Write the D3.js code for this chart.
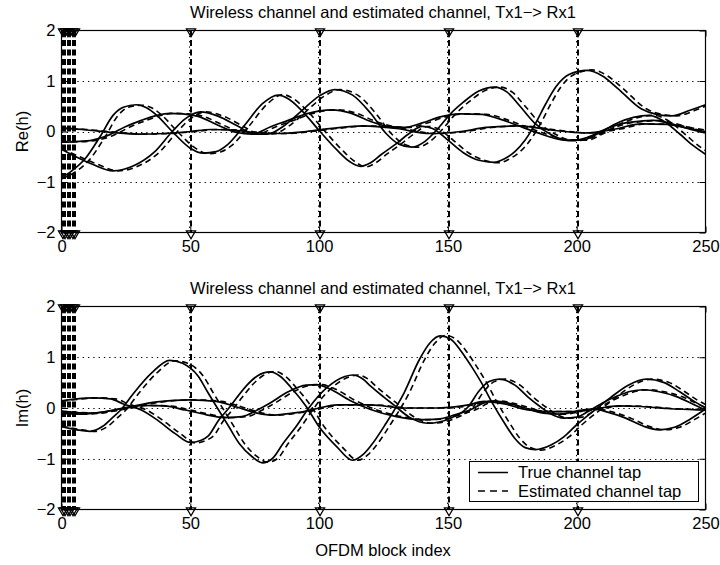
<!DOCTYPE html>
<html>
<head>
<meta charset="utf-8">
<script src="https://cdn.jsdelivr.net/npm/d3@7"></script>
<style>
  body { margin: 0; background: #fff; }
  text { font-family: "Liberation Sans", Arial, Helvetica, sans-serif; fill: #000; }
</style>
</head>
<body>
<div id="chart"></div>
<script>
// ---- data: [OFDM block, value] ----
var xTicks = [0, 50, 100, 150, 200, 250];
var yTicks = [-2, -1, 0, 1, 2];
var pilotBlocks = [0, 1, 2, 3, 4, 5, 50, 100, 150, 200];
var titleText = "Wireless channel and estimated channel, Tx1\u2212> Rx1";

// real part, true taps
var reTrue1 = [[0,-0.92],[4,-0.78],[9,-0.55],[15,-0.1],[20,0.32],[24,0.48],[29,0.53],[33,0.47],[37,0.32],[43,0.0],[50,-0.33],[55,-0.43],[60,-0.4],[64,-0.28],[71,0.12],[78,0.55],[84,0.72],[88,0.65],[93,0.43],[100,0.02],[107,-0.37],[112,-0.6],[116,-0.69],[120,-0.62],[124,-0.46],[130,-0.24],[135,-0.04],[140,0.1],[144,0.06],[150,-0.17],[156,-0.42],[162,-0.57],[168,-0.61],[172,-0.54],[176,-0.4],[180,-0.17],[184,0.16],[188,0.55],[192,0.89],[197,1.13],[204,1.21],[210,1.1],[216,0.85],[225,0.45],[231,0.34],[237,0.31],[244,0.42],[250,0.53]];
var reTrue2 = [[0,-0.35],[6,-0.51],[12,-0.65],[20,-0.78],[28,-0.68],[36,-0.41],[43,0.0],[48,0.25],[54,0.39],[61,0.3],[68,0.12],[75,-0.05],[80,-0.05],[86,0.1],[93,0.4],[100,0.7],[106,0.83],[113,0.72],[120,0.36],[126,-0.04],[131,-0.25],[136,-0.31],[141,-0.2],[146,0.05],[151,0.35],[156,0.58],[162,0.8],[168,0.88],[173,0.78],[178,0.5],[184,0.15],[190,-0.06],[196,-0.17],[202,-0.17],[208,-0.05],[215,0.15],[222,0.28],[228,0.32],[234,0.2],[240,-0.05],[245,-0.27],[250,-0.45]];
var reTrue3 = [[0,-0.21],[6,-0.2],[12,-0.17],[18,-0.08],[25,0.1],[31,0.22],[37,0.32],[42,0.36],[47,0.35],[53,0.3],[61,0.12],[68,-0.02],[74,-0.05],[81,0.09],[88,0.22],[95,0.35],[105,0.43],[112,0.37],[120,0.2],[127,0.1],[133,0.08],[140,0.17],[147,0.29],[155,0.35],[163,0.34],[170,0.25],[177,0.12],[185,-0.03],[192,-0.14],[198,-0.18],[204,-0.12],[210,0.02],[217,0.15],[224,0.2],[230,0.22],[236,0.16],[243,0.06],[250,-0.03]];
var reTrue4 = [[0,0.07],[10,0.03],[20,-0.02],[30,-0.05],[40,-0.04],[50,0.0],[58,0.04],[66,0.03],[75,-0.02],[85,-0.04],[95,0.0],[105,0.06],[117,0.11],[130,0.06],[143,-0.04],[155,0.0],[165,0.08],[177,0.11],[190,0.03],[203,-0.03],[215,0.05],[225,0.15],[235,0.14],[243,0.07],[250,0.0]];

// real part, estimated taps
var reEst1 = [[0,-0.94],[6,-0.78],[11,-0.55],[17,-0.1],[22,0.32],[26,0.48],[31,0.52],[35,0.47],[39,0.32],[45,0.0],[52,-0.33],[57,-0.44],[62,-0.4],[66,-0.28],[73,0.12],[80,0.55],[86,0.73],[90,0.65],[95,0.43],[102,0.02],[109,-0.37],[114,-0.6],[118,-0.7],[122,-0.62],[126,-0.46],[132,-0.24],[137,-0.04],[142,0.1],[146,0.06],[152,-0.17],[158,-0.42],[164,-0.57],[170,-0.62],[174,-0.54],[178,-0.4],[182,-0.17],[186,0.16],[190,0.55],[194,0.89],[199,1.13],[206,1.22],[212,1.1],[218,0.85],[227,0.45],[233,0.34],[239,0.31],[246,0.42],[250,0.5]];
var reEst2 = [[0,-0.34],[8,-0.52],[14,-0.65],[22,-0.78],[30,-0.68],[38,-0.41],[45,0.0],[50,0.25],[56,0.39],[63,0.3],[70,0.12],[77,-0.05],[82,-0.05],[88,0.1],[95,0.4],[102,0.7],[108,0.83],[115,0.72],[122,0.36],[128,-0.04],[133,-0.25],[138,-0.31],[143,-0.2],[148,0.05],[153,0.35],[158,0.58],[164,0.8],[170,0.88],[175,0.78],[180,0.5],[186,0.15],[192,-0.06],[198,-0.17],[204,-0.17],[210,-0.05],[217,0.15],[224,0.28],[230,0.32],[236,0.2],[242,-0.05],[247,-0.27],[250,-0.38]];
var reEst3 = [[0,-0.2],[8,-0.2],[14,-0.17],[20,-0.08],[27,0.1],[33,0.22],[39,0.32],[44,0.36],[49,0.35],[55,0.3],[63,0.12],[70,-0.02],[76,-0.05],[83,0.09],[90,0.22],[97,0.35],[107,0.43],[114,0.37],[122,0.2],[129,0.1],[135,0.08],[142,0.17],[149,0.29],[157,0.35],[165,0.34],[172,0.25],[179,0.12],[187,-0.03],[194,-0.14],[200,-0.18],[206,-0.12],[212,0.02],[219,0.15],[226,0.2],[232,0.22],[238,0.16],[245,0.06],[250,0.0]];
var reEst4 = [[0,0.06],[12,0.03],[22,-0.02],[32,-0.05],[42,-0.04],[52,0.0],[60,0.04],[68,0.03],[77,-0.02],[87,-0.04],[97,0.0],[107,0.06],[119,0.11],[132,0.06],[145,-0.04],[157,0.0],[167,0.08],[179,0.11],[192,0.03],[205,-0.03],[217,0.05],[227,0.15],[237,0.14],[245,0.07],[250,0.03]];

// imaginary part, true taps
var imTrue1 = [[0,-0.37],[6,-0.43],[11,-0.46],[16,-0.36],[20,-0.18],[23,-0.04],[28,0.29],[35,0.69],[42,0.94],[47,0.88],[53,0.63],[57,0.29],[61,-0.04],[65,-0.37],[69,-0.7],[74,-0.96],[78,-1.08],[82,-0.99],[86,-0.7],[91,-0.37],[96,0.0],[103,0.4],[110,0.62],[113,0.65],[117,0.57],[120,0.43],[125,0.22],[129,0.06],[135,-0.18],[142,-0.3],[147,-0.27],[151,-0.2],[158,0.03],[162,0.33],[166,0.52],[170,0.57],[176,0.45],[181,0.22],[186,0.02],[190,-0.12],[195,-0.2],[200,-0.18],[205,-0.05],[210,0.1],[216,0.24],[221,0.33],[226,0.36],[232,0.32],[239,0.22],[245,0.08],[250,-0.04]];
var imTrue2 = [[0,0.14],[6,0.18],[12,0.2],[19,0.18],[24,0.08],[31,-0.04],[37,-0.23],[44,-0.5],[50,-0.68],[54,-0.64],[57,-0.55],[61,-0.24],[65,0.0],[68,0.2],[72,0.45],[76,0.63],[81,0.71],[85,0.62],[89,0.41],[95,0.03],[100,-0.37],[107,-0.77],[113,-1.03],[117,-0.92],[120,-0.75],[126,-0.3],[133,0.3],[139,0.96],[143,1.28],[147,1.42],[151,1.36],[155,1.13],[159,0.83],[163,0.5],[167,0.12],[172,-0.3],[176,-0.6],[180,-0.78],[184,-0.82],[190,-0.73],[195,-0.57],[200,-0.33],[207,-0.04],[213,0.2],[220,0.45],[227,0.57],[234,0.5],[240,0.32],[245,0.15],[250,0.0]];
var imTrue3 = [[0,-0.07],[12,-0.1],[24,0.0],[37,0.12],[50,0.16],[60,0.13],[68,0.02],[76,-0.1],[82,-0.14],[88,-0.11],[94,-0.07],[100,0.0],[107,0.06],[120,0.06],[133,0.0],[146,0.0],[158,0.06],[164,0.13],[172,0.08],[181,-0.04],[190,-0.07],[199,-0.07],[208,-0.01],[216,0.04],[225,0.03],[235,-0.01],[250,-0.04]];
var imTrue4 = [[0,-0.1],[8,-0.12],[16,-0.08],[24,-0.01],[32,0.05],[40,0.04],[48,-0.04],[56,-0.13],[63,-0.19],[70,-0.17],[76,-0.04],[81,0.1],[88,0.32],[95,0.45],[99,0.46],[104,0.38],[112,0.15],[120,-0.03],[130,-0.17],[139,-0.23],[146,-0.22],[153,-0.13],[159,-0.03],[164,0.1],[168,0.14],[173,0.1],[180,0.0],[187,-0.1],[194,-0.12],[200,-0.06],[206,-0.02],[212,-0.08],[219,-0.2],[226,-0.36],[232,-0.43],[238,-0.38],[244,-0.22],[250,-0.02]];

// imaginary part, estimated taps
var imEst1 = [[0,-0.36],[8,-0.43],[13,-0.46],[18,-0.36],[22,-0.18],[25,-0.04],[30,0.29],[37,0.69],[44,0.93],[49,0.88],[55,0.63],[59,0.29],[63,-0.04],[67,-0.37],[71,-0.7],[76,-0.96],[80,-1.07],[84,-0.99],[88,-0.7],[93,-0.37],[98,0.0],[105,0.4],[112,0.62],[115,0.65],[119,0.57],[122,0.43],[127,0.22],[131,0.06],[137,-0.18],[144,-0.3],[149,-0.27],[153,-0.2],[160,0.03],[164,0.33],[168,0.52],[172,0.57],[178,0.45],[183,0.22],[188,0.02],[192,-0.12],[197,-0.2],[202,-0.18],[207,-0.05],[212,0.1],[218,0.24],[223,0.33],[228,0.36],[234,0.32],[241,0.22],[247,0.08],[250,0.01]];
var imEst2 = [[0,0.13],[8,0.18],[14,0.2],[21,0.18],[26,0.08],[33,-0.04],[39,-0.23],[46,-0.5],[52,-0.69],[56,-0.64],[59,-0.55],[63,-0.24],[67,0.0],[70,0.2],[74,0.45],[78,0.63],[83,0.72],[87,0.62],[91,0.41],[97,0.03],[102,-0.37],[109,-0.77],[115,-1.03],[119,-0.92],[122,-0.75],[128,-0.3],[135,0.3],[141,0.96],[145,1.28],[149,1.43],[153,1.36],[157,1.13],[161,0.83],[165,0.5],[169,0.12],[174,-0.3],[178,-0.6],[182,-0.78],[186,-0.83],[192,-0.73],[197,-0.57],[202,-0.33],[209,-0.04],[215,0.2],[222,0.45],[229,0.57],[236,0.5],[242,0.32],[247,0.15],[250,0.07]];
var imEst3 = [[0,-0.06],[14,-0.1],[26,0.0],[39,0.12],[52,0.16],[62,0.13],[70,0.02],[78,-0.1],[84,-0.14],[90,-0.11],[96,-0.07],[102,0.0],[109,0.06],[122,0.06],[135,0.0],[148,0.0],[160,0.06],[166,0.13],[174,0.08],[183,-0.04],[192,-0.07],[201,-0.07],[210,-0.01],[218,0.04],[227,0.03],[237,-0.01],[250,-0.03]];
var imEst4 = [[0,-0.1],[10,-0.12],[18,-0.08],[26,-0.01],[34,0.05],[42,0.04],[50,-0.04],[58,-0.13],[65,-0.19],[72,-0.17],[78,-0.04],[83,0.1],[90,0.32],[97,0.45],[101,0.46],[106,0.38],[114,0.15],[122,-0.03],[132,-0.17],[141,-0.23],[148,-0.22],[155,-0.13],[161,-0.03],[166,0.1],[170,0.14],[175,0.1],[182,0.0],[189,-0.1],[196,-0.12],[202,-0.06],[208,-0.02],[214,-0.08],[221,-0.2],[228,-0.36],[234,-0.43],[240,-0.38],[246,-0.22],[250,-0.1]];

// ---- layout ----
var width = 720, height = 565;
var plotLeft = 61.5, plotRight = 705.5;
var fontSize = "16.5px";

var svg = d3.select("#chart")
  .append("svg")
    .attr("width", width)
    .attr("height", height);

var x = d3.scaleLinear()
  .domain([0, 250])
  .range([plotLeft, plotRight]);

var panels = [
  {top: 30.5, bottom: 232.5, ylabel: "Re(h)", tru: [reTrue1, reTrue2, reTrue3, reTrue4], est: [reEst1, reEst2, reEst3, reEst4], legend: false},
  {top: 306.5, bottom: 509.5, ylabel: "Im(h)", tru: [imTrue1, imTrue2, imTrue3, imTrue4], est: [imEst1, imEst2, imEst3, imEst4], legend: true}
];

panels.forEach(function(p) {
  var y = d3.scaleLinear()
    .domain([-2, 2])
    .range([p.bottom, p.top]);

  var g = svg.append("g");

  // dotted grid
  g.selectAll(null)
    .data(yTicks.filter(function(v) { return v > -2 && v < 2; }))
    .enter().append("line")
      .attr("x1", plotLeft).attr("x2", plotRight)
      .attr("y1", function(d) { return Math.round(y(d)) + 0.5; })
      .attr("y2", function(d) { return Math.round(y(d)) + 0.5; })
      .style("stroke", "#000")
      .style("stroke-width", 1)
      .style("stroke-dasharray", "1.3,4");
  g.selectAll(null)
    .data(xTicks.filter(function(v) { return v > 0 && v < 250; }))
    .enter().append("line")
      .attr("x1", function(d) { return Math.round(x(d)) - 0.5; })
      .attr("x2", function(d) { return Math.round(x(d)) - 0.5; })
      .attr("y1", p.top).attr("y2", p.bottom)
      .style("stroke", "#000")
      .style("stroke-width", 1)
      .style("stroke-dasharray", "1.3,4");

  // pilot stems with triangle markers at +2 and -2
  g.selectAll(null)
    .data(pilotBlocks)
    .enter().append("line")
      .attr("x1", function(d) { return Math.round(x(d)) + 1; })
      .attr("x2", function(d) { return Math.round(x(d)) + 1; })
      .attr("y1", y(2)).attr("y2", y(-2))
      .style("stroke", "#000")
      .style("stroke-width", 2)
      .style("stroke-dasharray", "6,3.5");

  var tri = d3.symbol().type(d3.symbolTriangle).size(36);
  [2, -2].forEach(function(v) {
    g.selectAll(null)
      .data(pilotBlocks)
      .enter().append("path")
        .attr("d", tri)
        .attr("transform", function(d) { return "translate(" + (Math.round(x(d)) + 1) + "," + (y(v) + 1) + ") rotate(180)"; })
        .style("fill", "none")
        .style("stroke", "#000")
        .style("stroke-width", 1.3);
  });

  var line = d3.line()
    .x(function(d) { return x(d[0]); })
    .y(function(d) { return y(d[1]); })
    .curve(d3.curveMonotoneX);

  // estimated taps (dashed) under the true taps (solid)
  g.selectAll(null)
    .data(p.est)
    .enter().append("path")
      .attr("d", line)
      .style("fill", "none")
      .style("stroke", "#000")
      .style("stroke-width", 1.6)
      .style("stroke-dasharray", "6,4");
  g.selectAll(null)
    .data(p.tru)
    .enter().append("path")
      .attr("d", line)
      .style("fill", "none")
      .style("stroke", "#000")
      .style("stroke-width", 1.7);

  // axes, ticks inside like MATLAB
  g.append("g")
    .attr("transform", "translate(0," + p.bottom + ")")
    .call(d3.axisBottom(x).tickValues(xTicks).tickSizeInner(-6).tickSizeOuter(0).tickPadding(8));
  g.append("g")
    .attr("transform", "translate(0," + p.top + ")")
    .call(d3.axisTop(x).tickValues(xTicks).tickSizeInner(-6).tickSizeOuter(0).tickFormat(""));
  g.append("g")
    .attr("transform", "translate(" + plotLeft + ",0)")
    .call(d3.axisLeft(y).tickValues(yTicks).tickSizeInner(-6).tickSizeOuter(0).tickPadding(6).tickFormat(d3.format("d")));
  g.append("g")
    .attr("transform", "translate(" + plotRight + ",0)")
    .call(d3.axisRight(y).tickValues(yTicks).tickSizeInner(-6).tickSizeOuter(0).tickFormat(""));
  g.selectAll(".domain").remove();
  g.selectAll(".tick line").style("stroke", "#000");
  g.selectAll(".tick text")
    .style("font-size", fontSize)
    .style("font-family", "Liberation Sans, Arial, sans-serif");

  // frame
  g.append("rect")
    .attr("x", plotLeft).attr("y", p.top)
    .attr("width", plotRight - plotLeft)
    .attr("height", p.bottom - p.top)
    .style("fill", "none")
    .style("stroke", "#000")
    .style("stroke-width", 1.2);

  // title and y label
  g.append("text")
    .attr("x", 383)
    .attr("y", p.top - 13)
    .attr("text-anchor", "middle")
    .style("font-size", fontSize)
    .text(titleText);
  g.append("text")
    .attr("transform", "translate(28," + ((p.top + p.bottom) / 2) + ") rotate(-90)")
    .attr("text-anchor", "middle")
    .style("font-size", fontSize)
    .text(p.ylabel);

  if (p.legend) {
    var lg = g.append("g");
    lg.append("rect")
      .attr("x", 469.5).attr("y", 461.5)
      .attr("width", 229).attr("height", 40)
      .style("fill", "#fff")
      .style("stroke", "#000")
      .style("stroke-width", 1);
    var items = [{label: "True channel tap", dash: null}, {label: "Estimated channel tap", dash: "7,5"}];
    items.forEach(function(it, i) {
      var yy = 472.5 + i * 18.5;
      lg.append("line")
        .attr("x1", 478).attr("x2", 508)
        .attr("y1", yy).attr("y2", yy)
        .style("stroke", "#000")
        .style("stroke-width", 1.5)
        .style("stroke-dasharray", it.dash);
      lg.append("text")
        .attr("x", 518).attr("y", yy + 5.5)
        .style("font-size", fontSize)
        .text(it.label);
    });
  }
});

// x label
svg.append("text")
  .attr("x", 383)
  .attr("y", 556)
  .attr("text-anchor", "middle")
  .style("font-size", fontSize)
  .text("OFDM block index");
</script>
</body>
</html>
